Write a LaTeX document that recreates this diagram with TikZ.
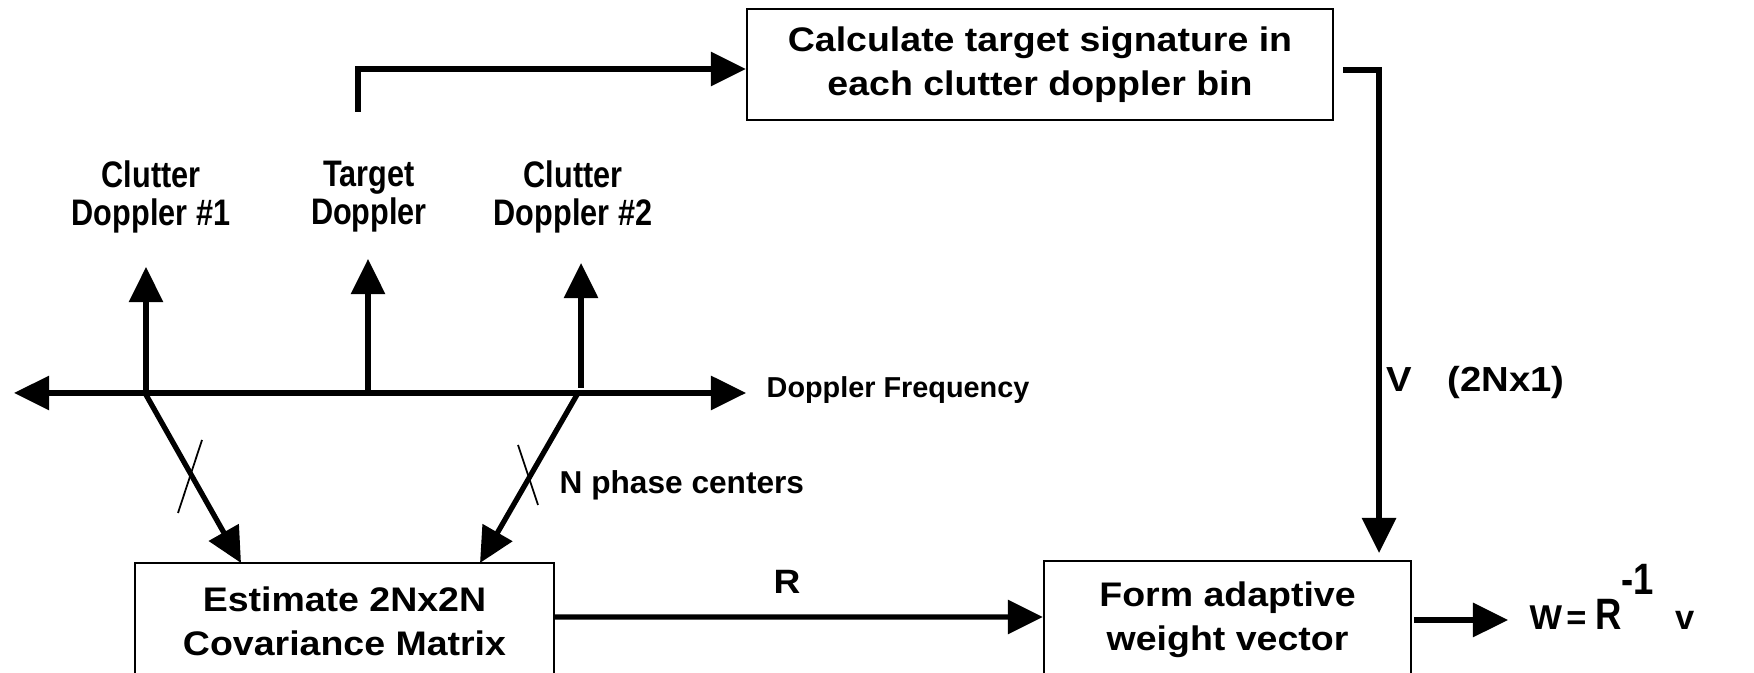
\documentclass[tikz,border=0pt]{standalone}
\usepackage{fontspec}
\setmainfont{Liberation Sans}
\newfontfamily\boxf[FakeStretch=1.1]{Liberation Sans}
\newfontfamily\condf[FakeStretch=0.83]{Liberation Sans}
\usetikzlibrary{arrows.meta}
\begin{document}
\begin{tikzpicture}[x=0.1mm,y=-0.1mm,
  tip/.style={-{Triangle[length=10pt,width=9.5pt]}},
  conn/.style={line width=1.5pt,tip},
  blk/.style={draw,line width=0.6pt,inner sep=0pt,align=center,
    font=\boxf\bfseries\fontsize{9.7}{12.5}\selectfont},
  lbl/.style={inner sep=0pt,align=center,font=\condf\bfseries\fontsize{10.5}{10.8}\selectfont},
  txt/.style={inner sep=0pt,font=\bfseries\fontsize{9}{11}\selectfont},
  tick/.style={line width=0.5pt}]
\useasboundingbox (0,0) rectangle (1754,673);

% boxes
\node[blk,minimum width=58.6mm,minimum height=11.1mm] (calc) at (1040,64.5)
  {Calculate target signature in\\each clutter doppler bin};
\node[blk,minimum width=41.9mm,minimum height=11.6mm] (est) at (344.5,621)
  {Estimate 2Nx2N\\Covariance Matrix};
\node[blk,minimum width=36.7mm,minimum height=11.8mm] (form) at (1227.5,620)
  {Form adaptive\\weight vector};

% doppler axis
\coordinate (axL) at (14,393);
\coordinate (axR) at (746,393);
\draw[line width=1.5pt,{Triangle[length=10pt,width=9.5pt]}-{Triangle[length=10pt,width=9.5pt]}] (axL) -- (axR);
\node[txt,anchor=base west,font=\bfseries\fontsize{8.2}{10}\selectfont] (dfreq) at (766,398) {Doppler Frequency};

% spectral lines
\coordinate (c1b) at (146,393);
\coordinate (c1t) at (146,267);
\coordinate (tgb) at (368,393);
\coordinate (tgt) at (368,259);
\coordinate (c2b) at (581,388);
\coordinate (c2t) at (581,263);
\draw[conn] (c1b) -- (c1t);
\draw[conn] (tgb) -- (tgt);
\draw[conn] (c2b) -- (c2t);

% labels
\node[lbl] (lc1) at (151,197) {Clutter\\Doppler \#1};
\node[lbl] (ltg) at (369,197) {Target\\Doppler};
\node[lbl] (lc2) at (573,197) {Clutter\\Doppler \#2};

% to covariance estimate
\coordinate (d1s) at (145,393);
\coordinate (d1e) at (241,563);
\coordinate (d2s) at (578,393);
\coordinate (d2e) at (480,563);
\draw[conn] (d1s) -- (d1e);
\draw[conn] (d2s) -- (d2e);
\coordinate (t1a) at (178,513);
\coordinate (t1b) at (202,440);
\coordinate (t2a) at (518,445);
\coordinate (t2b) at (538,505);
\draw[tick] (t1a) -- (t1b);
\draw[tick] (t2a) -- (t2b);
\node[txt,anchor=base west] (nph) at (559,494) {N phase centers};

% target signature path
\coordinate (tgs) at (358,112);
\draw[conn] (tgs) |- ([yshift=-0.45mm]calc.west);
\coordinate (vend) at (1379,553);
\draw[conn] ([xshift=0.9mm,yshift=-0.55mm]calc.east) -| (vend);
\node[inner sep=0pt,anchor=base west,font=\boxf\bfseries\fontsize{9.9}{11}\selectfont] (vlab) at (1386,392) {V\hspace{10pt}(2Nx1)};

% R
\draw[conn] ([yshift=0.4mm]est.east) -- ([yshift=0.3mm]form.west);
\node[inner sep=0pt,anchor=base,font=\boxf\bfseries\fontsize{9.6}{11}\selectfont] (rlab) at (787,594) {R};

% output
\coordinate (outt) at (1508,620);
\draw[conn] ([xshift=0.2mm]form.east) -- (outt);
\node[inner sep=0pt,anchor=base west,font=\bfseries\fontsize{9.8}{11}\selectfont] (wlab) at (1529,630)
  {W\hspace{1.2pt}=\hspace{2.5pt}{\condf\fontsize{12.5}{13}\selectfont R\raisebox{10pt}{-1}}\hspace{6pt}v};
\end{tikzpicture}
\end{document}
